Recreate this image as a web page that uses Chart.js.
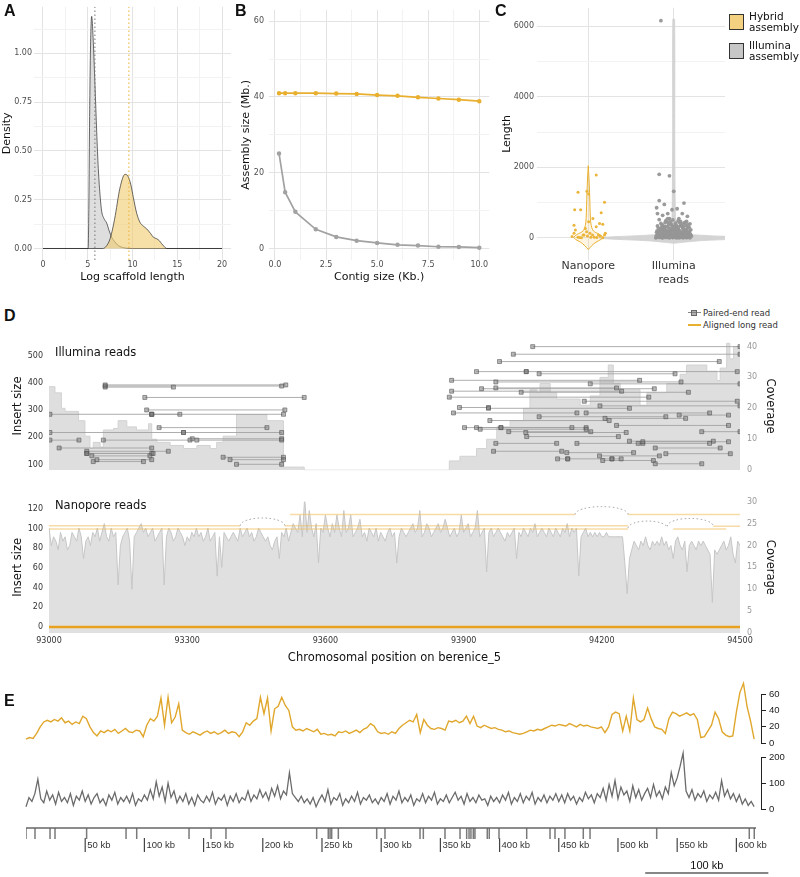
<!DOCTYPE html>
<html>
<head>
<meta charset="utf-8">
<title>Hybrid vs Illumina assembly</title>
<script src="https://cdn.jsdelivr.net/npm/chart.js@4.4.1/dist/chart.umd.min.js"></script>
<style>
  body { margin: 0; background: #fff; }
  #page { position: relative; width: 800px; height: 877px; overflow: hidden; font-family: 'DejaVu Sans', sans-serif; }
  canvas { position: absolute; }
  .panel { position: absolute; font: bold 16px 'Liberation Sans', Arial, sans-serif; line-height: 1; color: #111; }
  .note { position: absolute; white-space: nowrap; color: #111; line-height: 1; }
  .key { position: absolute; box-sizing: border-box; border: 1px solid #333; width: 15px; height: 16px; }
</style>
</head>
<body>
<div id="page">
  <canvas id="chartA" width="240" height="292" style="left:0;top:0"></canvas>
  <canvas id="chartB" width="255" height="292" style="left:240px;top:0"></canvas>
  <canvas id="chartC" width="235" height="292" style="left:495px;top:0"></canvas>
  <canvas id="chartDi" width="800" height="152" style="left:0;top:330px"></canvas>
  <canvas id="chartDn" width="800" height="180" style="left:0;top:490px"></canvas>
  <canvas id="chartEy" width="800" height="76" style="left:0;top:676px"></canvas>
  <canvas id="chartEg" width="800" height="70" style="left:0;top:748px"></canvas>
  <canvas id="chartEr" width="800" height="57" style="left:0;top:820px"></canvas>

  <div class="panel" style="left:4px;top:3px">A</div>
  <div class="panel" style="left:235px;top:3px">B</div>
  <div class="panel" style="left:495px;top:3px">C</div>
  <div class="panel" style="left:4px;top:308px">D</div>
  <div class="panel" style="left:4px;top:693px">E</div>

  <!-- legend C -->
  <div class="key" style="left:729px;top:14px;background:#f3d181"></div>
  <div class="note" style="left:749px;top:11px;font-size:10.5px;line-height:11px">Hybrid<br>assembly</div>
  <div class="key" style="left:729px;top:43px;background:#c6c6c6"></div>
  <div class="note" style="left:749px;top:40px;font-size:10.5px;line-height:11px">Illumina<br>assembly</div>

  <!-- legend D -->
  <div style="position:absolute;left:688px;top:312px;width:13px;height:1px;background:#888"></div>
  <div style="position:absolute;left:691px;top:310px;width:6px;height:6px;box-sizing:border-box;background:rgba(125,125,125,.6);border:1px solid #666"></div>
  <div class="note" style="left:703px;top:309px;font-size:8.5px;color:#333">Paired-end read</div>
  <div style="position:absolute;left:688px;top:324px;width:13px;height:1.5px;background:#e9b030"></div>
  <div class="note" style="left:703px;top:321px;font-size:8.5px;color:#333">Aligned long read</div>

  <div class="note" style="left:55px;top:347px;font-size:11.5px">Illumina reads</div>
  <div class="note" style="left:55px;top:500px;font-size:11.5px">Nanopore reads</div>
</div>

<script>
// panel A: density of log scaffold length
const hybridLogLen = [0, 6.7, 7.0, 7.5, 8.0, 8.6, 9.16, 9.5, 9.8, 10.1, 10.47, 10.84, 11.2, 11.6, 12.0, 12.33, 12.7, 13.0, 13.26, 13.5, 13.82, 20]
const hybridDensity = [0, 0, 0.008, 0.05, 0.15, 0.31, 0.38, 0.37, 0.33, 0.26, 0.18, 0.134, 0.115, 0.1, 0.078, 0.058, 0.05, 0.04, 0.024, 0.012, 0, 0]
const illuminaLogLen = [0, 5.05, 5.12, 5.2, 5.3, 5.44, 5.6, 5.81, 6.0, 6.18, 6.4, 6.56, 6.8, 7.12, 7.4, 7.67, 8.0, 8.42, 9.0, 10, 20]
const illuminaDensity = [0, 0, 0.2, 0.62, 1.0, 1.19, 1.08, 0.84, 0.6, 0.41, 0.26, 0.19, 0.155, 0.13, 0.09, 0.058, 0.035, 0.015, 0.004, 0, 0]
const medianLogLen = [5.8, 9.6]   // illumina, hybrid

// panel B: assembly size by minimum contig size
const contigSizeKb = [0.2, 0.5, 1, 2, 3, 4, 5, 6, 7, 8, 9, 10]
const hybridAssemblyMb = [41.0, 41.0, 41.0, 41.0, 40.9, 40.8, 40.5, 40.3, 39.9, 39.6, 39.3, 38.9]
const illuminaAssemblyMb = [25.1, 14.9, 9.7, 5.1, 3.1, 2.1, 1.5, 1.0, 0.8, 0.5, 0.45, 0.26]

// panel C: read length violins + jittered points
const readTypes = [['Nanopore', 'reads'], ['Illumina', 'reads']]
const nanoViolinLen = [-330, -220, -120, -40, 20, 100, 200, 350, 550, 900, 1300, 1700, 2050]
const nanoViolinWidth = [0, 0.04, 0.09, 0.15, 0.17, 0.13, 0.06, 0.035, 0.025, 0.02, 0.015, 0.008, 0]
const illViolinLen = [-150, -80, -30, 0, 30, 80, 150, 300, 600, 1500, 3000, 6200]
const illViolinWidth = [0, 0.3, 0.75, 0.87, 0.75, 0.3, 0.05, 0.025, 0.02, 0.015, 0.012, 0.01]
const nanoJitter = [0.093, -0.12, -0.016, 0.004, -0.159, -0.089, 0.19, 0.151, -0.167, 0.054, 0.132, 0.17, -0.151, -0.035, 0.004, 0.093,
  -0.19, -0.12, -0.08, -0.05, -0.01, 0.03, 0.07, 0.1, 0.14, 0.19, 0.2, -0.167, -0.02, 0.02, -0.06, -0.1, 0.05, 0.12, 0.17]
const nanoLength = [1786, 1293, 1321, 1247, 800, 800, 1014, 716, 363, 549, 409, 391, 223, 270, 456, 316,
  40, 19, 5, 84, 56, 19, 19, 10, 56, 84, 130, 130, 177, 130, 84, 15, 84, 84, 5]
const illJitter = [-0.20, -0.18, -0.16, -0.15, -0.14, -0.12, -0.11, -0.10, -0.09, -0.08, -0.07, -0.06, -0.05, -0.04, -0.03, -0.02, -0.01, 0.00, 0.01, 0.02, 0.03, 0.04, 0.05, 0.06, 0.07, 0.08, 0.09, 0.10, 0.11, 0.12, 0.13, 0.14, 0.15, 0.16, 0.17, 0.18, 0.19, 0.20,
  -0.19, -0.17, -0.15, -0.13, -0.11, -0.09, -0.07, -0.05, -0.03, -0.01, 0.01, 0.03, 0.05, 0.07, 0.09, 0.11, 0.13, 0.15, 0.17, 0.19,
  -0.20, -0.16, -0.12, -0.08, -0.04, 0.00, 0.04, 0.08, 0.12, 0.16, 0.20,
  -0.18, -0.14, -0.06, -0.02, 0.02, 0.06, 0.10, 0.14, 0.18, -0.10, 0.08, -0.04, 0.13,
  -0.21, -0.17, -0.13, -0.09, -0.05, -0.01, 0.03, 0.07, 0.11, 0.15, 0.19,
  -0.205, -0.195, -0.185, -0.175, -0.165, -0.155, -0.145, -0.135, -0.125, -0.115, -0.105, -0.095, -0.085, -0.075, -0.065, -0.055, -0.045, -0.035, -0.025, -0.015, -0.005,
  0.005, 0.015, 0.025, 0.035, 0.045, 0.055, 0.065, 0.075, 0.085, 0.095, 0.105, 0.115, 0.125, 0.135, 0.145, 0.155, 0.165, 0.175, 0.185, 0.195, 0.205,
  -0.19, -0.15, -0.11, -0.07, -0.03, 0.01, 0.05, 0.09, 0.13, 0.17, -0.17, -0.13, -0.09, -0.01, 0.03, 0.07, 0.11, 0.15, 0.19, -0.05,
  -0.15, -0.17, -0.05, 0.00, -0.17, -0.11, 0.12, 0.04, -0.20, -0.02, -0.07, 0.10, -0.13, 0.16, 0.06, -0.07, -0.19]
const illLength = [20, 120, 60, 250, 10, 180, 90, 330, 40, 210, 140, 15, 280, 70, 190, 30, 110, 240, 50, 160, 300, 20, 130, 220, 80, 350, 30, 170, 260, 60, 120, 200, 10, 290, 90, 150, 40, 230,
  80, 200, 30, 140, 260, 100, 50, 170, 90, 20, 190, 60, 240, 10, 110, 80, 30, 180, 50, 120,
  160, 100, 40, 80, 130, 90, 180, 120, 160, 140, 80,
  280, 320, 380, 350, 420, 310, 400, 360, 300, 440, 470, 460, 430,
  5, 15, 5, 15, 5, 10, 5, 15, 5, 15, 5,
  60, 200, 110, 30, 170, 90, 230, 50, 140, 260, 20, 190, 70, 310, 120, 40, 220, 150, 80, 270, 100,
  30, 180, 60, 250, 130, 10, 210, 90, 160, 40, 280, 70, 190, 120, 240, 60, 140, 30, 200, 100, 50,
  340, 410, 290, 450, 390, 330, 480, 350, 440, 380, 520, 370, 500, 510, 360, 430, 320, 470, 400, 550,
  6160, 1805, 1760, 1321, 1060, 950, 990, 828, 856, 800, 690, 690, 642, 614, 549, 549, 690]

// panel D top: Illumina paired-end reads and coverage
const readStart = [93122, 93122, 93122, 93208, 93212, 93002, 93223, 93223, 93239, 93002, 93292, 93311, 93002, 93118, 93321, 93022, 93082, 93082, 93082, 93093, 93378, 93104, 93393, 93096, 93407,
  94050, 94008, 93978, 93928, 94036, 94064, 93874, 93970, 94175, 93970, 93939, 93874, 94025, 93869, 94162, 94196, 93891, 93954, 93878, 94166, 94368, 94064, 94207, 93957,
  94232, 93902, 93928, 93981, 93936, 93998, 94417, 94035, 94037, 94260, 93970, 94146, 94279, 94289, 94316, 93965, 94124, 94339, 94195, 94104, 94126, 94222, 94202, 94316]
const readEnd = [93505, 93270, 93514, 93554, 93512, 93223, 93284, 93509, 93473, 93292, 93505, 93505, 93065, 93306, 93505, 93223, 93259, 93223, 93226, 93219, 93509, 93223, 93509, 93205, 93505,
  94500, 94500, 94455, 94036, 94494, 94359, 94282, 94372, 94500, 94232, 94314, 94243, 94388, 94302, 94494, 94500, 93954, 94260, 94146, 94434, 94475, 94339, 94382, 94216,
  94475, 93981, 94135, 94166, 94166, 94176, 94500, 94253, 94236, 94442, 94102, 94289, 94434, 94475, 94457, 94113, 94269, 94479, 94325, 94126, 94222, 94242, 94312, 94417]
const readInsert = [389, 385, 393, 347, 301, 285, 285, 285, 236, 218, 218, 195, 190, 190, 190, 161, 149, 141, 141, 132, 127, 118, 118, 111, 101,
  534, 506, 479, 442, 442, 434, 410, 404, 397, 382, 379, 370, 366, 348, 333, 316, 310, 307, 290, 290, 282, 276, 270, 262,
  244, 236, 236, 236, 230, 221, 221, 218, 203, 186, 178, 178, 178, 184, 161, 149, 144, 140, 132, 121, 121, 121, 115, 103]
const illCovPos = [93000, 93013, 93027, 93035, 93064, 93078, 93089, 93096, 93111, 93118, 93140, 93150, 93169, 93190, 93216, 93223, 93234, 93263, 93292, 93321,
  93350, 93364, 93378, 93407, 93473, 93509, 93554, 93869, 93892, 93928, 93950, 93972, 94001, 94030, 94044, 94059, 94066, 94088, 94102, 94153,
  94175, 94196, 94214, 94225, 94240, 94283, 94298, 94341, 94370, 94384, 94428, 94450, 94457, 94471, 94478, 94486, 94500]
const illCov = [27, 25, 20, 19, 16, 11, 7, 9, 7.5, 13, 13.5, 16, 14, 13, 15, 10, 9, 8, 7, 8,
  7, 9, 11, 18, 16, 1, 0, 3, 4.5, 7, 10, 14, 16, 20, 26, 25, 28, 25, 23, 21,
  24, 30, 34, 28, 26, 21, 25, 28, 31, 34, 32, 29, 33, 41, 36, 40, 40]

// panel D bottom: Nanopore coverage (every 5 bp from 93000) and long reads
const nanoCovStart = 93000, nanoCovStep = 5
const nanoCov = [
  24, 20, 22, 21, 19, 23, 21, 22, 19, 20, 23, 22, 21, 24, 22, 17, 21, 22, 20, 23,
  22, 24, 21, 23, 25, 22, 21, 24, 22, 23, 11, 20, 22, 23, 24, 21, 10, 22, 23, 24,
  25, 23, 24, 22, 23, 24, 21, 22, 23, 24, 11, 22, 24, 23, 21, 22, 24, 23, 22, 20,
  22, 21, 23, 22, 24, 22, 23, 21, 22, 24, 21, 22, 23, 13, 22, 15, 23, 22, 21, 22,
  23, 22, 21, 24, 22, 23, 24, 22, 23, 21, 22, 24, 23, 22, 21, 22, 20, 19, 21, 22,
  17, 23, 22, 24, 21, 23, 25, 24, 23, 27, 22, 31, 23, 28, 24, 22, 25, 16, 24, 23,
  27, 24, 22, 25, 23, 27, 24, 22, 28, 23, 24, 27, 22, 23, 24, 26, 22, 23, 21, 24,
  23, 22, 24, 21, 23, 22, 21, 23, 24, 22, 23, 16, 22, 24, 23, 22, 23, 24, 25, 23,
  24, 28, 22, 23, 25, 24, 22, 23, 24, 25, 23, 24, 26, 24, 22, 23, 24, 22, 23, 27,
  23, 24, 25, 22, 23, 24, 28, 22, 23, 24, 14, 23, 24, 22, 23, 24, 23, 22, 21, 23,
  22, 23, 24, 17, 23, 22, 24, 23, 22, 24, 23, 25, 22, 23, 24, 23, 22, 24, 23, 22,
  24, 23, 22, 24, 23, 25, 22, 24, 23, 24, 13, 22, 23, 24, 22, 23, 22, 23, 22, 23,
  22, 22, 23, 22, 22, 22, 22, 22, 22, 22, 16, 9, 17, 19, 21, 20, 19, 21, 20, 22,
  20, 19, 21, 20, 21, 20, 22, 20, 21, 19, 20, 17, 21, 22, 20, 19, 21, 14, 20, 21,
  20, 19, 21, 20, 21, 20, 19, 18, 7, 19, 18, 19, 20, 21, 19, 20, 22, 18, 16, 21,
  20]
const longReadStart = [93523, 94257, 93000, 93512, 94442, 93000, 94355]
const longReadEnd = [94142, 94500, 93415, 94257, 94500, 94257, 94470]
const longReadCov = [27.1, 27.1, 24.5, 24.5, 24.4, 23.8, 23.8]
const arcStart = [93415, 94142, 94257, 94342]
const arcEnd = [93512, 94257, 94342, 94442]
const arcBase = [24.5, 27.1, 24.0, 24.4]
const arcTop = [26.3, 28.9, 25.6, 26.2]
const alignedReadPos = [93000, 94500]
const alignedReadInsert = [0, 0]
const positionTicks = [93000, 93300, 93600, 93900, 94200, 94500]

// panel E: genome-wide coverage, hybrid every 3 kb, illumina every 2.5 kb
const hybridStepKb = 3
const hybridCovE = [
  5, 7, 6, 12, 20, 26, 28, 26, 29, 27, 31, 25, 27, 23, 26, 24, 33, 30, 20, 13,
  9, 15, 13, 16, 14, 17, 12, 15, 18, 14, 13, 16, 15, 8, 22, 30, 27, 33, 55, 22,
  56, 25, 32, 48, 16, 13, 11, 14, 12, 10, 13, 15, 12, 14, 11, 13, 16, 12, 14, 13,
  8, 14, 25, 22, 27, 30, 56, 36, 55, 15, 42, 45, 56, 46, 40, 20, 16, 17, 15, 18,
  16, 14, 17, 11, 12, 10, 11, 9, 14, 13, 15, 12, 14, 16, 13, 17, 19, 24, 21, 14,
  12, 13, 11, 14, 12, 18, 22, 25, 28, 26, 35, 13, 29, 22, 18, 17, 19, 18, 16, 27,
  26, 28, 25, 27, 33, 24, 33, 21, 19, 22, 20, 18, 19, 17, 16, 14, 15, 13, 12, 11,
  12, 14, 16, 15, 17, 16, 18, 20, 22, 21, 23, 22, 21, 24, 22, 20, 23, 21, 22, 20,
  19, 18, 20, 13, 20, 35, 38, 36, 15, 33, 15, 55, 29, 26, 29, 43, 30, 20, 18, 17,
  12, 30, 38, 36, 33, 35, 37, 34, 36, 29, 7, 8, 15, 22, 38, 30, 14, 10, 8, 9,
  38, 62, 73, 45, 27, 5]
const illuminaStepKb = 2.5
const illuminaCovE = [
  10, 45, 30, 60, 115, 40, 25, 70, 35, 55, 20, 65, 30, 45, 25, 60, 15, 50, 35, 70,
  30, 55, 20, 45, 60, 25, 40, 15, 55, 35, 65, 20, 45, 30, 50, 25, 60, 15, 40, 30,
  55, 35, 75, 40, 105, 50, 85, 30, 100, 45, 70, 25, 50, 30, 60, 20, 45, 15, 55, 35,
  25, 50, 30, 65, 20, 45, 35, 55, 15, 50, 30, 60, 25, 45, 35, 70, 30, 55, 40, 75,
  45, 65, 35, 80, 50, 90, 40, 70, 55, 140, 60, 45, 30, 50, 25, 40, 20, 45, 10, 35,
  55, 30, 75, 20, 45, 35, 60, 15, 40, 25, 50, 30, 65, 20, 45, 35, 55, 25, 40, 20,
  45, 30, 60, 20, 50, 35, 70, 25, 45, 30, 55, 15, 40, 30, 60, 25, 50, 35, 65, 20,
  40, 30, 55, 25, 45, 65, 35, 50, 20, 60, 30, 45, 25, 55, 35, 40, 15, 50, 30, 45,
  25, 55, 35, 65, 20, 45, 30, 60, 25, 50, 35, 65, 20, 45, 30, 55, 25, 50, 35, 60,
  30, 55, 25, 60, 35, 50, 20, 45, 30, 65, 40, 55, 25, 60, 45, 80, 35, 95, 50, 110,
  40, 85, 55, 70, 30, 90, 45, 75, 35, 60, 80, 45, 95, 50, 70, 40, 85, 60, 140, 90,
  120, 165, 215, 70, 45, 75, 35, 60, 45, 70, 30, 55, 40, 65, 35, 110, 50, 75, 40, 60,
  30, 55, 20, 40, 15, 30, 10]
const featurePosKb = [0, 7.6, 20.3, 24.5, 51.2, 84.5, 93.5, 137.7, 156.3, 168.9, 245.5, 255.3, 256.8, 258.2, 263.8, 296.2, 303.2,
  332.8, 335.6, 353.9, 366.6, 372.2, 374.2, 375.8, 377.8, 379.2, 389.6, 391.3, 399.5, 422.9, 442.6, 446.8, 455.2, 470.7, 476.4, 532.7, 610.9, 615.1]
const kbTicks = [50, 100, 150, 200, 250, 300, 350, 400, 450, 500, 550, 600]
const chromEndKb = 616.6
const scaleBarKb = [523, 627]

const HYB = '#e9b030', ILL = '#a2a2a2'

Chart.defaults.animation = false
Chart.defaults.responsive = false
Chart.defaults.font.family = "'DejaVu Sans', sans-serif"
Chart.defaults.font.size = 8
Chart.defaults.color = '#4d4d4d'
Chart.defaults.plugins.legend.display = false
Chart.defaults.plugins.tooltip.enabled = false
Chart.defaults.elements.point.radius = 0

const pts = (xs, ys) => xs.map((x, i) => ({ x: x, y: ys[i] }))
function segs(starts, ends, levels) {
  const out = []
  starts.forEach((s, i) => out.push({ x: s, y: levels[i] }, { x: ends[i], y: levels[i] }, { x: ends[i], y: null }))
  return out
}
function vsegs(xs, y0, y1) {
  const out = []
  xs.forEach(x => out.push({ x: x, y: y0 }, { x: x, y: y1 }, { x: x, y: null }))
  return out
}
function violin(center, lens, widths) {
  const right = lens.map((l, i) => ({ x: center + widths[i], y: l }))
  const left = lens.map((l, i) => ({ x: center - widths[i], y: l })).reverse()
  return right.concat(left, [right[0]])
}

// ggplot-like axis: major + minor grid, labels on majors only
function ggAxis(o) {
  const all = o.major.concat(o.minor).sort((a, b) => a - b)
  return {
    type: 'linear', position: o.position, min: o.min, max: o.max,
    afterBuildTicks: s => { s.ticks = all.map(v => ({ value: v })) },
    afterFit: s => { if (o.width) s.width = o.width; if (o.height) s.height = o.height },
    grid: { drawTicks: false, color: c => c.tick && o.major.includes(c.tick.value) ? '#e3e3e3' : '#f2f2f2' },
    border: { display: false },
    ticks: { autoSkip: false, maxRotation: 0, padding: o.pad, color: o.tickColor || '#4d4d4d',
      font: { size: o.tickSize || 8 }, callback: v => o.major.includes(v) ? o.format(v) : '' },
    title: { display: !!o.title, text: o.title, color: '#111', font: { size: 11 }, padding: o.titlePad }
  }
}

// panel A
const aY = [-0.059, 1.239]
new Chart('chartA', {
  type: 'scatter',
  data: { datasets: [
    { data: pts([medianLogLen[1], medianLogLen[1]], aY), showLine: true, borderColor: HYB, borderWidth: 1, borderDash: [1.5, 2.5] },
    { data: pts([medianLogLen[0], medianLogLen[0]], aY), showLine: true, borderColor: '#777', borderWidth: 1, borderDash: [1.5, 2.5] },
    { data: pts(hybridLogLen, hybridDensity), showLine: true, fill: 'origin', backgroundColor: 'rgba(242,204,110,0.6)',
      borderColor: '#2b2b2b', borderWidth: 0.7, cubicInterpolationMode: 'monotone' },
    { data: pts(illuminaLogLen, illuminaDensity), showLine: true, fill: 'origin', backgroundColor: 'rgba(200,200,200,0.6)',
      borderColor: '#2b2b2b', borderWidth: 0.7, cubicInterpolationMode: 'monotone' }
  ]},
  options: {
    layout: { padding: { top: 5, right: 9 } },
    scales: {
      x: ggAxis({ position: 'bottom', min: -1, max: 21, major: [0, 5, 10, 15, 20], minor: [2.5, 7.5, 12.5, 17.5], format: v => String(v),
        title: 'Log scaffold length', height: 32, pad: 0, titlePad: { top: 0, bottom: 8 } }),
      y: ggAxis({ position: 'left', min: aY[0], max: aY[1], major: [0, 0.25, 0.5, 0.75, 1], minor: [0.125, 0.375, 0.625, 0.875, 1.125],
        format: v => v.toFixed(2), title: 'Density', width: 34, pad: 2, titlePad: { top: 1, bottom: 0 } })
    }
  }
})

// panel B
new Chart('chartB', {
  type: 'scatter',
  data: { datasets: [
    { data: pts(contigSizeKb, hybridAssemblyMb), showLine: true, borderColor: HYB, backgroundColor: HYB, borderWidth: 1.7, pointRadius: 1.4 },
    { data: pts(contigSizeKb, illuminaAssemblyMb), showLine: true, borderColor: ILL, backgroundColor: ILL, borderWidth: 1.7, pointRadius: 1.4 }
  ]},
  options: {
    layout: { padding: { top: 6.5, right: 5 } },
    scales: {
      x: ggAxis({ position: 'bottom', min: -0.29, max: 10.49, major: [0, 2.5, 5, 7.5, 10], minor: [1.25, 3.75, 6.25, 8.75], format: v => v.toFixed(1),
        title: 'Contig size (Kb.)', height: 32, pad: 0, titlePad: { top: 0, bottom: 8 } }),
      y: ggAxis({ position: 'left', min: -3, max: 63, major: [0, 20, 40, 60], minor: [10, 30, 50], format: v => String(v),
        title: 'Assembly size (Mb.)', width: 29, pad: 5, titlePad: { top: 0, bottom: 0 } })
    }
  }
})

// panel C
new Chart('chartC', {
  type: 'scatter',
  data: { datasets: [
    { data: pts(nanoJitter.map(j => 0 + j), nanoLength), pointRadius: 1.5, backgroundColor: '#ebb43a', borderWidth: 0 },
    { data: pts(illJitter.map(j => 1 + j), illLength), pointRadius: 1.9, backgroundColor: 'rgba(150,150,150,0.95)', borderWidth: 0 },
    { data: violin(0, nanoViolinLen, nanoViolinWidth), showLine: true, fill: 'shape', tension: 0.3,
      backgroundColor: 'rgba(245,205,110,0.2)', borderColor: HYB, borderWidth: 1 },
    { data: violin(1, illViolinLen, illViolinWidth), showLine: true, fill: 'shape', tension: 0.3,
      backgroundColor: '#d4d4d4', borderColor: '#cfcfcf', borderWidth: 0.8 }
  ]},
  options: {
    layout: { padding: { top: 4, right: 5 } },
    scales: {
      x: ggAxis({ position: 'bottom', min: -0.6, max: 1.6, major: [0, 1], minor: [], format: v => readTypes[v],
        tickSize: 11, tickColor: '#333', height: 32, pad: 0 }),
      y: ggAxis({ position: 'left', min: -625, max: 6525, major: [0, 2000, 4000, 6000], minor: [1000, 3000, 5000], format: v => String(v),
        title: 'Length', width: 42, pad: 3, titlePad: { top: 6, bottom: 0 } })
    }
  }
})

// panel D axes
function sideAxis(position, min, max, ticks, title, width) {
  const left = position === 'left'
  return {
    type: 'linear', position: position, min: min, max: max,
    afterBuildTicks: s => { s.ticks = ticks.map(v => ({ value: v })) },
    afterFit: s => { s.width = width },
    grid: { display: false, drawTicks: false }, border: { display: false },
    ticks: { autoSkip: false, padding: left ? 6 : 7, color: left ? '#333' : '#999', font: { size: 8 } },
    title: { display: true, text: title, color: '#111', font: { size: 11.5 }, padding: { top: left ? 11 : 23, bottom: 0 } }
  }
}

new Chart('chartDi', {
  type: 'scatter',
  data: { datasets: [
    { data: segs(readStart, readEnd, readInsert), yAxisID: 'yIns', showLine: true, borderColor: 'rgba(160,160,160,0.85)', borderWidth: 1,
      pointStyle: 'rect', pointRadius: 2.8, pointBackgroundColor: 'rgba(120,120,120,0.5)', pointBorderColor: 'rgba(85,85,85,0.75)', pointBorderWidth: 0.8 },
    { data: pts(illCovPos, illCov), yAxisID: 'yCov', showLine: true, stepped: 'before', fill: 'origin',
      backgroundColor: '#dedede', borderColor: '#d3d3d3', borderWidth: 1 }
  ]},
  options: {
    layout: { padding: { top: 10, bottom: 5 } },
    scales: {
      x: { type: 'linear', min: 93000, max: 94500, display: false },
      yIns: sideAxis('left', 79.3, 551.7, [100, 200, 300, 400, 500], 'Insert size', 49),
      yCov: sideAxis('right', 0, 41.5, [0, 10, 20, 30, 40], 'Coverage', 60)
    }
  }
})

const arcPlugin = {
  id: 'readArcs',
  afterDatasetsDraw(chart) {
    const x = chart.scales.x, y = chart.scales.yCov, ctx = chart.ctx
    ctx.save()
    ctx.setLineDash([1.5, 2.5])
    ctx.strokeStyle = '#9a9a9a'
    ctx.lineWidth = 1
    arcStart.forEach((s, i) => {
      const x0 = x.getPixelForValue(s), x1 = x.getPixelForValue(arcEnd[i])
      const yb = y.getPixelForValue(arcBase[i]), yt = y.getPixelForValue(arcTop[i])
      ctx.beginPath()
      ctx.ellipse((x0 + x1) / 2, yb, (x1 - x0) / 2, yb - yt, 0, Math.PI, 2 * Math.PI)
      ctx.stroke()
    })
    ctx.restore()
  }
}

new Chart('chartDn', {
  type: 'scatter',
  data: { datasets: [
    { data: pts(alignedReadPos, alignedReadInsert), yAxisID: 'yIns', showLine: true, borderColor: '#e9a21f', borderWidth: 2.5 },
    { data: segs(longReadStart, longReadEnd, longReadCov), yAxisID: 'yCov', showLine: true, borderColor: 'rgba(240,190,95,0.55)', borderWidth: 1.5 },
    { data: nanoCov.map((c, i) => ({ x: nanoCovStart + i * nanoCovStep, y: c })), yAxisID: 'yCov', showLine: true, fill: 'origin',
      backgroundColor: '#e0e0e0', borderColor: '#c6c6c6', borderWidth: 1 }
  ]},
  options: {
    layout: { padding: { top: 10 } },
    scales: {
      x: { type: 'linear', min: 93000, max: 94500,
        afterBuildTicks: s => { s.ticks = positionTicks.map(v => ({ value: v })) },
        afterFit: s => { s.height = 37 },
        grid: { display: false, drawTicks: false }, border: { display: false },
        ticks: { autoSkip: false, maxRotation: 0, padding: 3, color: '#333', font: { size: 8 }, callback: v => String(v) },
        title: { display: true, text: 'Chromosomal position on berenice_5', color: '#111', font: { size: 11.5 }, padding: { top: 0, bottom: 5 } } },
      yIns: sideAxis('left', -6, 127, [0, 20, 40, 60, 80, 100, 120], 'Insert size', 49),
      yCov: sideAxis('right', 0, 30, [0, 5, 10, 15, 20, 25, 30], 'Coverage', 60)
    }
  },
  plugins: [arcPlugin]
})

// panel E
const eFont = { family: "'Liberation Sans', Arial, sans-serif", size: 9.5 }
const eXmax = 620.8
function eAxis(max, ticks) {
  return {
    type: 'linear', position: 'right', min: 0, max: max,
    afterBuildTicks: s => { s.ticks = ticks.map(v => ({ value: v })) },
    afterFit: s => { s.width = 39 },
    grid: { drawOnChartArea: false, drawTicks: true, tickLength: 5, color: '#222' },
    border: { display: true, color: '#222', width: 1 },
    ticks: { autoSkip: false, padding: 3, color: '#222', font: eFont }
  }
}

new Chart('chartEy', {
  type: 'scatter',
  data: { datasets: [
    { data: hybridCovE.map((c, i) => ({ x: i * hybridStepKb, y: c })), showLine: true, borderColor: '#e0a72c', borderWidth: 1.4, clip: false }
  ]},
  options: {
    layout: { padding: { left: 26, top: 18, bottom: 6 } },
    scales: { x: { type: 'linear', min: 0, max: eXmax, display: false }, y: eAxis(60, [0, 20, 40, 60]) }
  }
})

new Chart('chartEg', {
  type: 'scatter',
  data: { datasets: [
    { data: illuminaCovE.map((c, i) => ({ x: i * illuminaStepKb, y: c })), showLine: true, borderColor: '#6b6b6b', borderWidth: 1.3, clip: false }
  ]},
  options: {
    layout: { padding: { left: 26, top: 9, bottom: 5 } },
    scales: { x: { type: 'linear', min: 0, max: eXmax, display: false }, y: eAxis(200, [0, 100, 200]) }
  }
})

const rulerPlugin = {
  id: 'rulerLabels',
  afterDatasetsDraw(chart) {
    const x = chart.scales.x, y = chart.scales.y, ctx = chart.ctx
    ctx.save()
    ctx.fillStyle = '#333'
    ctx.font = "9.5px 'Liberation Sans', Arial, sans-serif"
    ctx.textBaseline = 'middle'
    kbTicks.forEach(v => ctx.fillText(v + ' kb', x.getPixelForValue(v) + 2, y.getPixelForValue(17.5)))
    ctx.font = "11px 'Liberation Sans', Arial, sans-serif"
    ctx.textAlign = 'center'
    ctx.fillStyle = '#111'
    ctx.fillText('100 kb', x.getPixelForValue((scaleBarKb[0] + scaleBarKb[1]) / 2), y.getPixelForValue(38))
    ctx.restore()
  }
}

new Chart('chartEr', {
  type: 'scatter',
  data: { datasets: [
    { data: pts([0, chromEndKb], [0, 0]), showLine: true, borderColor: '#666', borderWidth: 1.5, clip: false },
    { data: vsegs(featurePosKb, 0, 11), showLine: true, borderColor: '#7a7a7a', borderWidth: 1.5 },
    { data: vsegs(kbTicks, 10, 24), showLine: true, borderColor: '#444', borderWidth: 1.2 },
    { data: pts(scaleBarKb, [45, 45]), showLine: true, borderColor: '#111', borderWidth: 1.2, clip: false }
  ]},
  options: {
    layout: { padding: { left: 26, right: 39, top: 8, bottom: 25 } },
    scales: {
      x: { type: 'linear', min: 0, max: eXmax, display: false },
      y: { type: 'linear', min: 0, max: 24, reverse: true, display: false }
    }
  },
  plugins: [rulerPlugin]
})
</script>
</body>
</html>
